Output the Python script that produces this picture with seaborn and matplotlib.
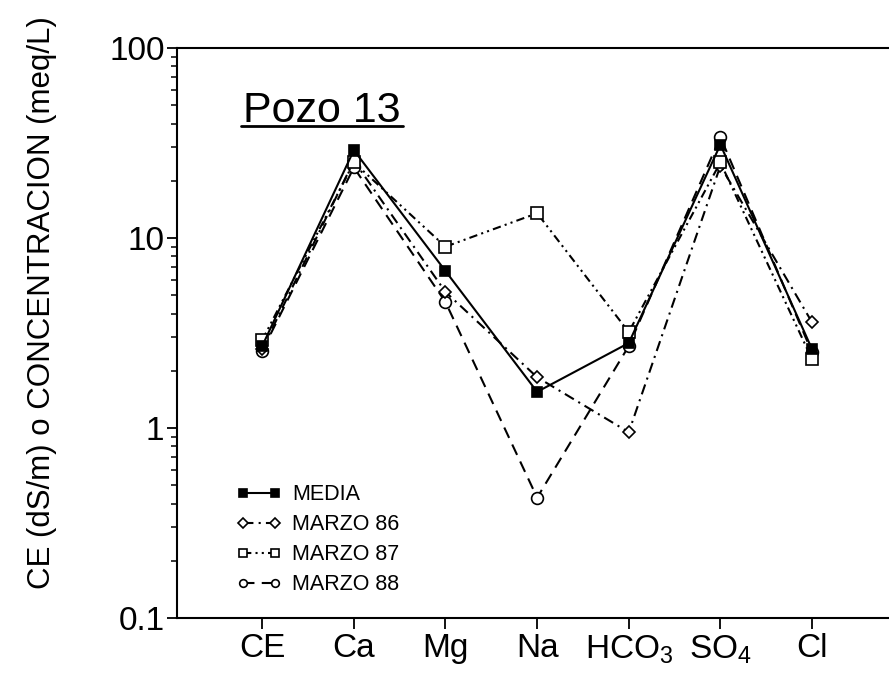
import numpy as np
import pandas as pd
import matplotlib
matplotlib.use("Agg")
import matplotlib.pyplot as plt
import seaborn as sns
from matplotlib.lines import Line2D

# categories on the x axis (mathtext subscripts for HCO3 and SO4)
categories = ["CE", "Ca", "Mg", "Na", "HCO$_3$", "SO$_4$", "Cl"]

# values (log axis, dS/m or meq/L)
media = [2.7, 29.0, 6.7, 1.55, 2.8, 31.0, 2.6]
marzo_86 = [2.6, 25.5, 5.2, 1.85, 0.95, 24.0, 3.6]
marzo_87 = [2.9, 25.0, 9.0, 13.5, 3.2, 25.0, 2.3]
marzo_88 = [2.55, 23.5, 4.6, 0.43, 2.7, 34.0, 2.5]

series_names = ["MEDIA", "MARZO 86", "MARZO 87", "MARZO 88"]
series_values = [media, marzo_86, marzo_87, marzo_88]

y_ticks = [0.1, 1, 10, 100]
y_ticklabels = ["0.1", "1", "10", "100"]

sns.set_style("ticks")
plt.rcParams["font.family"] = ["Liberation Sans", "DejaVu Sans"]
plt.rcParams["mathtext.default"] = "regular"
plt.rcParams["text.color"] = "black"
plt.rcParams["axes.labelcolor"] = "black"
plt.rcParams["xtick.color"] = "black"
plt.rcParams["ytick.color"] = "black"

rows = []
for name, vals in zip(series_names, series_values):
    for i, v in enumerate(vals):
        rows.append({"serie": name, "pos": i, "value": v})
df = pd.DataFrame(rows)

# line style per series
styles = {
    "MEDIA": dict(linestyle="-", marker="s", markerfacecolor="black", zorder=5),
    "MARZO 86": dict(linestyle=(0, (5, 2.5, 1, 2.5)), marker="D", markerfacecolor="white", zorder=3),
    "MARZO 87": dict(linestyle=(0, (4, 2, 1, 2, 1, 2)), marker="s", markerfacecolor="white", zorder=4),
    "MARZO 88": dict(linestyle=(0, (5.5, 3.5)), marker="o", markerfacecolor="white", zorder=2),
}
msize = {"MEDIA": 7, "MARZO 86": 6, "MARZO 87": 8, "MARZO 88": 8.5}

fig = plt.figure(figsize=(8.89, 6.88), dpi=100)
ax = fig.add_axes([177 / 889, 70 / 688, 712 / 889, 570 / 688])

for name in series_names:
    sub = df[df["serie"] == name]
    sns.lineplot(
        data=sub, x="pos", y="value", ax=ax, color="black", linewidth=1.5,
        markersize=msize[name], markeredgecolor="black", markeredgewidth=1.2,
        label=name, **styles[name]
    )

ax.set_yscale("log")
ax.set_ylim(0.1, 100)
ax.set_xlim(-0.93, 6.84)
ax.set_yticks(y_ticks)
ax.set_yticklabels(y_ticklabels)
ax.set_xticks(range(len(categories)))
ax.set_xticklabels(categories)

ax.tick_params(axis="y", which="major", direction="out", length=7, width=1.3,
               labelsize=24, pad=2)
ax.tick_params(axis="y", which="minor", direction="out", length=4, width=1.1)
ax.tick_params(axis="x", direction="out", length=8, width=1.3, labelsize=24, pad=3)

for side in ["left", "bottom", "top"]:
    ax.spines[side].set_linewidth(1.5)
    ax.spines[side].set_color("black")
ax.spines["right"].set_visible(False)

ax.set_xlabel("")
ax.set_ylabel("CE (dS/m) o CONCENTRACION (meq/L)", fontsize=22.5)
ax.yaxis.set_label_coords(-0.169, 0.553)

leg = ax.legend(
    loc="lower left", bbox_to_anchor=(0.083, 0.04), frameon=False,
    numpoints=2, fontsize=15.5, handlelength=2.1, handletextpad=0.5,
    labelspacing=0.42, borderpad=0, borderaxespad=0
)
for h in leg.legend_handles:
    h.set_markersize(5.5)
for t in leg.get_texts():
    t.set_color("black")

title = ax.text(0.093, 0.870, "Pozo 13", transform=ax.transAxes,
                fontsize=31, va="baseline", ha="left", color="black")

# underline the title
fig.canvas.draw()
bb = title.get_window_extent().transformed(fig.transFigure.inverted())
base_y = ax.transAxes.transform((0, 0.870))[1]
line_y = fig.transFigure.inverted().transform((0, base_y - 4))[1]
fig.add_artist(Line2D([bb.x0 - 0.002, bb.x1 + 0.002], [line_y, line_y],
                      color="black", linewidth=2, transform=fig.transFigure))

fig.savefig("out.png", dpi=100)
